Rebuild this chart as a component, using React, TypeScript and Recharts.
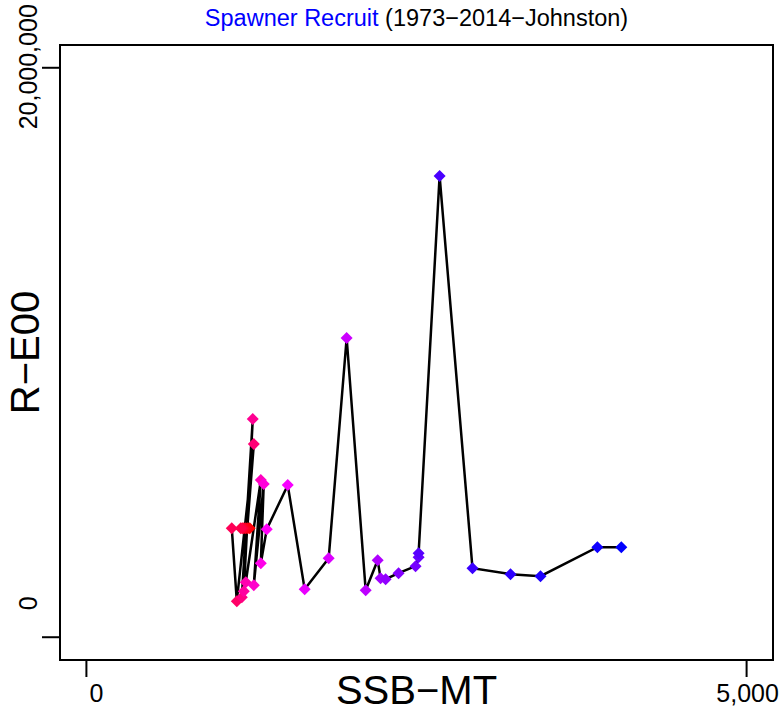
import React from "react";
import {
  ScatterChart,
  Scatter,
  XAxis,
  YAxis,
  ReferenceArea,
} from "recharts";

// SSB (MT) and recruits, in chronological order (1973 onwards)
const SSB = [
  1237, 1222, 1207, 1192, 1181, 1169, 1101, 1139, 1268, 1177, 1260, 1192,
  1207, 1321, 1268, 1343, 1321, 1366, 1525, 1653, 1835, 1971, 2115, 2206,
  2228, 2266, 2364, 2493, 2516, 2516, 2675, 2924, 3212, 3439, 3870, 4051,
];
const RECRUITS = [
  3830000, 3830000, 3830000, 3830000, 3830000, 3830000, 3830000, 1265000,
  6784000, 1406000, 7662000, 1617000, 1933000, 5518000, 1828000, 5378000,
  2601000, 3796000, 5343000, 1687000, 2777000, 10510000, 1652000, 2706000,
  2074000, 2039000, 2250000, 2496000, 2812000, 2953000, 16200000, 2425000,
  2214000, 2144000, 3163000, 3163000,
];
const X_TICKS = [0, 5000];
const Y_TICKS = [0, 20000000];
const X_LABELS = ["0", "5,000"];
const Y_LABELS = ["0", "20,000,000"];

const FONT = "'Liberation Sans', Arial, Helvetica, sans-serif";

const data = SSB.map((s, i) => ({ ssb: s, r: RECRUITS[i], i }));

// red -> magenta -> blue, by year
function pointColor(i: number, n: number) {
  const t = n > 1 ? i / (n - 1) : 0;
  if (t <= 0.5) {
    const b = Math.round(255 * t * 2);
    return `rgb(255,0,${b})`;
  }
  const r = Math.round(255 * (1 - t) * 2);
  return `rgb(${r},0,255)`;
}

const Diamond = (props: any) => {
  const { cx, cy, payload } = props;
  if (cx == null || cy == null) return null;
  const idx = payload?.i ?? props.index ?? 0;
  const h = 6;
  return (
    <polygon
      points={`${cx},${cy - h} ${cx + h},${cy} ${cx},${cy + h} ${cx - h},${cy}`}
      fill={pointColor(idx, data.length)}
    />
  );
};

const XTick = (props: any) => {
  const { x, y, payload } = props;
  const k = X_TICKS.indexOf(payload.value);
  const dx = payload.value === 0 ? 10 : 1;
  return (
    <text
      x={x + dx}
      y={y + 25}
      textAnchor="middle"
      fontSize={25}
      fontFamily={FONT}
      fill="#000"
    >
      {X_LABELS[k]}
    </text>
  );
};

const YTick = (props: any) => {
  const { x, y, payload } = props;
  const k = Y_TICKS.indexOf(payload.value);
  const cx = x - 14;
  const cy = payload.value === 0 ? y - 34 : y - 1;
  return (
    <text
      x={cx}
      y={cy}
      transform={`rotate(-90, ${cx}, ${cy})`}
      textAnchor="middle"
      dominantBaseline="central"
      fontSize={25}
      fontFamily={FONT}
      fill="#000"
    >
      {Y_LABELS[k]}
    </text>
  );
};

export default function App() {
  return (
    <div
      style={{
        position: "absolute",
        left: 0,
        top: 0,
        width: 781,
        height: 713,
        background: "#fff",
        fontFamily: FONT,
      }}
    >
      <div
        style={{
          position: "absolute",
          left: 60,
          width: 713,
          top: 5,
          textAlign: "center",
          fontSize: 23.5,
          lineHeight: "26px",
          color: "#000",
        }}
      >
        <span style={{ color: "#0000ff" }}>Spawner Recruit</span> (1973−2014−Johnston)
      </div>
      <ScatterChart
        width={781}
        height={713}
        margin={{ top: 45, right: 8, bottom: 0, left: 0 }}
      >
        <XAxis
          type="number"
          dataKey="ssb"
          domain={[-200, 5200]}
          ticks={X_TICKS}
          allowDataOverflow
          height={53}
          axisLine={false}
          tickLine={{ stroke: "#000", strokeWidth: 2 }}
          tickSize={17}
          tickMargin={0}
          tick={<XTick />}
          interval={0}
          label={{
            content: ({ viewBox }: any) => (
              <text
                x={viewBox.x + viewBox.width / 2}
                y={viewBox.y + 44}
                textAnchor="middle"
                fontSize={40}
                fontFamily={FONT}
                fill="#000"
              >
                SSB−MT
              </text>
            ),
          }}
        />
        <YAxis
          type="number"
          dataKey="r"
          domain={[-800000, 20800000]}
          ticks={Y_TICKS}
          allowDataOverflow
          width={60}
          axisLine={false}
          tickLine={{ stroke: "#000", strokeWidth: 2 }}
          tickSize={18}
          tickMargin={0}
          tick={<YTick />}
          interval={0}
          label={{
            content: ({ viewBox }: any) => {
              const cx = 25;
              const cy = viewBox.y + viewBox.height / 2;
              return (
                <text
                  x={cx}
                  y={cy}
                  transform={`rotate(-90, ${cx}, ${cy})`}
                  textAnchor="middle"
                  dominantBaseline="central"
                  fontSize={40}
                  fontFamily={FONT}
                  fill="#000"
                >
                  R−E00
                </text>
              );
            },
          }}
        />
        <ReferenceArea
          x1={-200}
          x2={5200}
          y1={-800000}
          y2={20800000}
          fill="none"
          stroke="#000"
          strokeWidth={2}
          ifOverflow="visible"
        />
        <Scatter
          data={data}
          line={{ stroke: "#000", strokeWidth: 2.5 }}
          lineType="joint"
          shape={<Diamond />}
          isAnimationActive={false}
        />
      </ScatterChart>
    </div>
  );
}
